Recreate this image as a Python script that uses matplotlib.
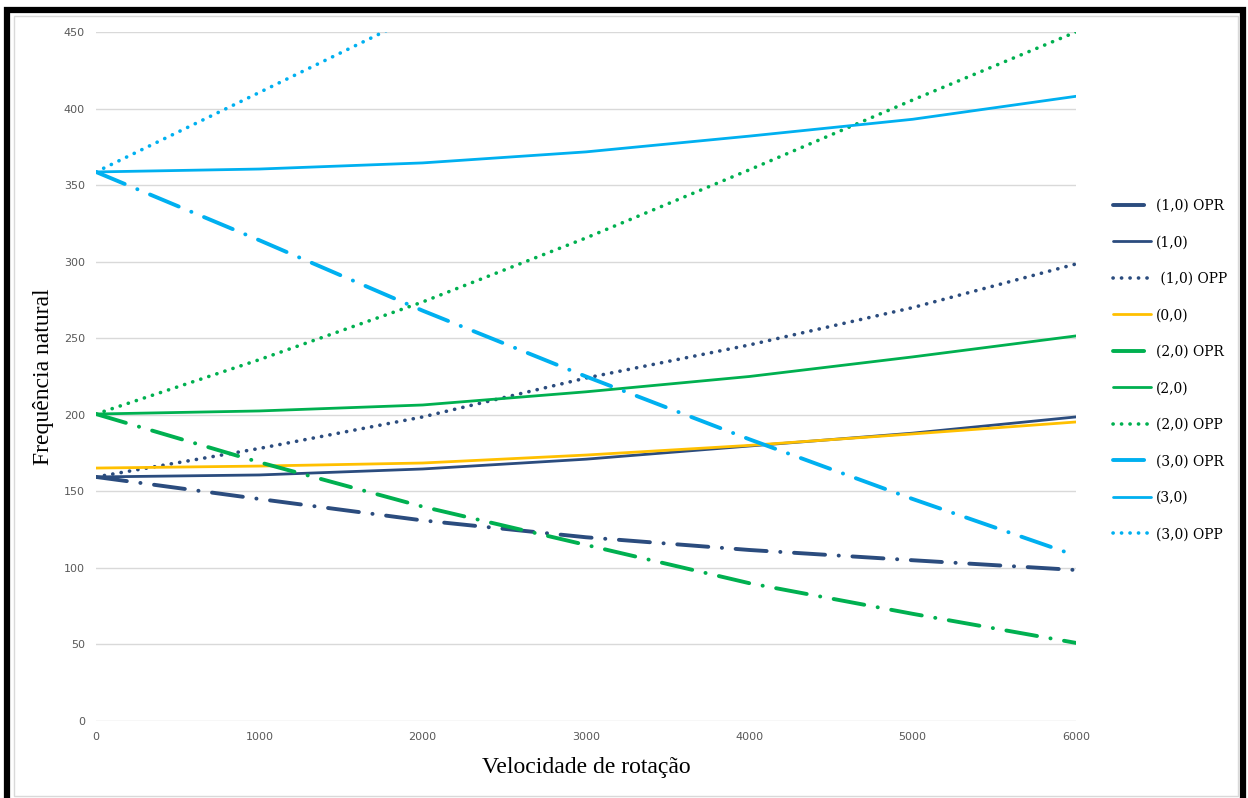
import numpy as np
import matplotlib.pyplot as plt
from matplotlib.patches import Rectangle

# rotation speed samples
rpm = [0, 1000, 2000, 3000, 4000, 5000, 6000]

# natural frequencies per mode
f10_opr = [159.4, 145, 131, 120, 111.7, 105, 98.6]
f10 = [159.4, 160.7, 164.6, 171, 179.6, 188, 198.6]
f10_opp = [159.4, 178, 198.6, 224, 245.6, 270, 298.5]
f00 = [165.2, 166.5, 168.5, 173.7, 180, 187.5, 195.3]
f20_opr = [200.5, 169, 140, 115, 90, 70, 51]
f20 = [200.5, 202.5, 206.4, 215, 225, 237.8, 251.5]
f20_opp = [200.5, 236, 273.7, 315.5, 360, 405.6, 450]
f30_opr = [358.6, 314, 268, 225, 184, 145, 108]
f30 = [358.6, 360.5, 364.5, 371.7, 382, 393, 408]
f30_opp = [358.6, 410.5, 462.5, 514.5, 566.5, 618.5, 670.5]

navy = '#2b4c7e'
yellow = '#ffc000'
green = '#00b050'
cyan = '#00b0f0'
dashdot = (0, (8, 3.5, 0.05, 3.5))
dotted = (0, (0.05, 2.3))

W, H = 1248, 798
fig = plt.figure(figsize=(W / 100, H / 100), dpi=100)
ax = fig.add_axes([96 / W, 1 - 721 / H, 980 / W, 689 / H])

series = [
    (f10_opr, '(1,0) OPR', navy, dashdot, 2.8),
    (f10, '(1,0)', navy, '-', 2.0),
    (f10_opp, ' (1,0) OPP', navy, dotted, 2.6),
    (f00, '(0,0)', yellow, '-', 2.0),
    (f20_opr, '(2,0) OPR', green, dashdot, 2.8),
    (f20, '(2,0)', green, '-', 2.0),
    (f20_opp, '(2,0) OPP', green, dotted, 2.6),
    (f30_opr, '(3,0) OPR', cyan, dashdot, 2.8),
    (f30, '(3,0)', cyan, '-', 2.0),
    (f30_opp, '(3,0) OPP', cyan, dotted, 2.6),
]
for vals, label, color, ls, lw in series:
    ax.plot(rpm, vals, color=color, linestyle=ls, linewidth=lw, label=label,
            solid_capstyle='round', dash_capstyle='round')

ax.set_xlim(0, 6000)
ax.set_ylim(0, 450)
ax.set_xticks(np.arange(0, 6001, 1000))
ax.set_yticks(np.arange(0, 451, 50))
ax.grid(axis='y', color='#d9d9d9', linewidth=1)
ax.set_axisbelow(True)
for s in ax.spines.values():
    s.set_visible(False)
ax.tick_params(length=0, labelsize=8, labelcolor='#595959', pad=8)

ax.set_ylabel('Frequência natural', family='Liberation Serif', fontsize=17, labelpad=7)
ax.set_xlabel('Velocidade de rotação', family='Liberation Serif', fontsize=17, labelpad=11)

fig.legend(loc='center left', bbox_to_anchor=(1100 / W, 1 - 370 / H), frameon=False,
           prop={'family': 'DejaVu Serif', 'size': 10}, labelspacing=1.62,
           handlelength=2.8, handletextpad=0.3)

# frame around the whole figure
fig.patches.append(Rectangle((7 / W, -0.02), 1236 / W, 1 - 10 / H + 0.02, transform=fig.transFigure,
                             fill=False, edgecolor='black', linewidth=4.5))
fig.patches.append(Rectangle((14 / W, 2 / H), 1224 / W, 1 - 18 / H, transform=fig.transFigure,
                             fill=False, edgecolor='#d9d9d9', linewidth=1))

fig.savefig('out.png', dpi=100)
